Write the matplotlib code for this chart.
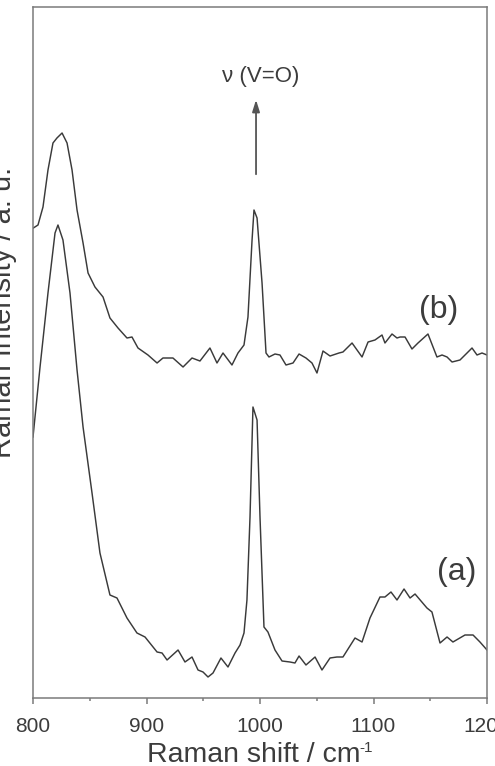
import matplotlib
matplotlib.use('Agg')
import matplotlib.pyplot as plt
from matplotlib.ticker import MultipleLocator

plt.rcParams['font.family'] = ['Liberation Sans', 'DejaVu Sans']

LINE_COLOR = '#3a3a3a'
AXIS_COLOR = '#7a7a7a'
TEXT_COLOR = '#3c3c3c'

# spectrum (a), lower trace
shift_a = [800, 806.2, 813.2, 819.4, 822, 826.4, 832.6, 838.8, 844.1, 852, 859,
           867.8, 874, 882.8, 891.6, 898.7, 909.3, 913.7, 918.1, 927.8, 933.9,
           940.1, 945.4, 949.8, 954.2, 958.6, 965.6, 971.8, 978, 982.4, 985.9,
           988.5, 991.2, 993.8, 997.4, 1000, 1003.5, 1007, 1013.2, 1019.4,
           1026.4, 1030.8, 1034.4, 1040.5, 1048.5, 1054.6, 1061.7, 1067.8,
           1073.1, 1083.7, 1089.9, 1096.9, 1105.7, 1110.1, 1115.4, 1120.7,
           1126.9, 1132.2, 1136.6, 1147.1, 1151.5, 1158.6, 1164.8, 1170,
           1180.6, 1187.7, 1193.8, 1200]
int_a = [261, 331, 405, 465, 473, 458, 405, 328, 271, 205, 145,
         103, 100, 80, 65, 61, 46, 45, 38, 48, 36,
         41, 28, 26, 21, 25, 40, 31, 45, 53, 65,
         98, 181, 291, 278, 181, 71, 66, 48, 37,
         36, 35, 42, 33, 41, 28, 40, 41,
         41, 60, 56, 80, 101, 101, 106, 98,
         109, 100, 104, 90, 86, 55, 61, 56,
         63, 63, 56, 48]

# spectrum (b), upper trace
shift_b = [800.3, 804.4, 808.8, 813.2, 817.6, 821.1, 825.6, 830, 834.4, 838.8,
           844.1, 848.5, 854.6, 861.7, 867.8, 874.9, 882.8, 887.2, 892.5, 901.3,
           909.3, 914.5, 923.3, 932.2, 940.1, 947.1, 955.9, 962.1, 967.4, 975.3,
           980.6, 985.9, 989.4, 993, 994.7, 997.4, 1001.8, 1005.3, 1007.9,
           1013.2, 1017.6, 1022.9, 1029.1, 1034.4, 1040.5, 1045.8, 1050.2,
           1055.5, 1061.7, 1069.6, 1073.1, 1081.1, 1089.9, 1095.2, 1101.3,
           1107.5, 1110.1, 1116.3, 1120.7, 1123.4, 1127.8, 1133.9, 1139.2, 1148,
           1155.9, 1160.4, 1164.8, 1169.2, 1176.2, 1182.4, 1186.8, 1191.2,
           1195.6, 1200]
int_b = [470, 473, 491, 528, 555, 560, 565, 555, 528, 488,
         455, 425, 411, 401, 380, 370, 360, 361, 350, 343,
         335, 340, 340, 331, 340, 337, 350, 335, 345, 333,
         345, 353, 381, 458, 488, 480, 415, 345, 341,
         344, 343, 333, 335, 344, 340, 335, 325,
         347, 342, 345, 346, 355, 341, 356, 358,
         363, 355, 364, 360, 361, 361, 349, 355, 364,
         341, 343, 341, 336, 338, 345, 350, 343,
         345, 343]

fig = plt.figure(figsize=(4.95, 7.66), dpi=100)
ax = fig.add_axes([33 / 495, 68 / 766, 454 / 495, 691 / 766])

ax.plot(shift_a, int_a, color=LINE_COLOR, lw=1.05, solid_joinstyle='round')
ax.plot(shift_b, int_b, color=LINE_COLOR, lw=1.05, solid_joinstyle='round')

ax.set_xlim(800, 1200)
ax.set_ylim(0, 691)
ax.xaxis.set_major_locator(MultipleLocator(100))
ax.xaxis.set_minor_locator(MultipleLocator(50))
ax.set_yticks([])
ax.tick_params(axis='x', which='major', direction='out', length=4, width=1.1,
               color=AXIS_COLOR, labelsize=15, labelcolor=TEXT_COLOR, pad=10)
ax.tick_params(axis='x', which='minor', direction='out', length=2.5, width=1.1,
               color=AXIS_COLOR)
for s in ax.spines.values():
    s.set_color(AXIS_COLOR)
    s.set_linewidth(1.1)

# axis titles placed by hand (cropped like the original figure)
fig.text(147 / 495, 1 - 762 / 766, 'Raman shift / cm', ha='left', va='baseline',
         fontsize=20.5, color=TEXT_COLOR)
fig.text(359 / 495, 1 - 752 / 766, '-1', ha='left', va='baseline',
         fontsize=11, color=TEXT_COLOR)
fig.text(17 / 495, 1 - 312 / 766, 'Raman Intensity / a. u.', rotation=90,
         ha='right', va='center', fontsize=21, color=TEXT_COLOR)

# band assignment arrow
ax.annotate('', xy=(996.5, 698 - 97), xytext=(996.5, 698 - 177),
            arrowprops=dict(arrowstyle='-|>,head_length=0.7,head_width=0.22',
                            color='#555555', lw=1.3))
ax.text(1000.5, 698 - 76, 'ν (V=O)', ha='center', va='center', fontsize=16,
        color=TEXT_COLOR)
ax.text(1157.7, 698 - 310, '(b)', ha='center', va='center', fontsize=23,
        color=TEXT_COLOR)
ax.text(1173.6, 698 - 572, '(a)', ha='center', va='center', fontsize=23,
        color=TEXT_COLOR)

fig.savefig('out.png', dpi=100)
